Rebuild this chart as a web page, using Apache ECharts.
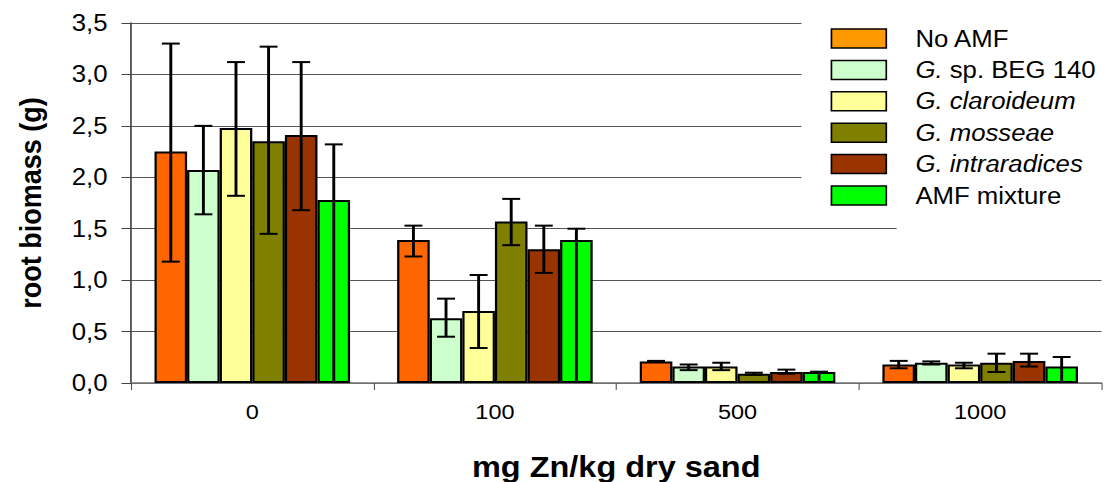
<!DOCTYPE html>
<html>
<head>
<meta charset="utf-8">
<script src="https://cdn.jsdelivr.net/npm/echarts@6/dist/echarts.min.js"></script>
<style>
  html, body { margin: 0; padding: 0; background: #fff; overflow: hidden; }
  /* the original figure is stretched sideways, so the chart is drawn narrower and widened */
  #chart { width: 988px; height: 482px; transform: scaleX(1.1194); transform-origin: 0 0; }
</style>
</head>
<body>
<div id="chart"></div>
<script>
  // categories: mg Zn / kg dry sand
  const doses = ['0', '100', '500', '1000']
  const yTicks = ['0,0', '0,5', '1,0', '1,5', '2,0', '2,5', '3,0', '3,5']

  const treatments = ['No AMF', 'G. sp. BEG 140', 'G. claroideum', 'G. mosseae', 'G. intraradices', 'AMF mixture']

  // mean root biomass (g)
  const noAmf = [2.25, 1.39, 0.21, 0.18]
  const begSp = [2.07, 0.63, 0.16, 0.197]
  const claroideum = [2.48, 0.70, 0.16, 0.18]
  const mosseae = [2.35, 1.57, 0.09, 0.197]
  const intraradices = [2.41, 1.30, 0.107, 0.214]
  const mixture = [1.78, 1.39, 0.107, 0.16]

  // error bar ends (low / high)
  const noAmfLo = [1.18, 1.23, 0.205, 0.143]
  const noAmfHi = [3.30, 1.53, 0.215, 0.215]
  const begSpLo = [1.64, 0.45, 0.125, 0.18]
  const begSpHi = [2.50, 0.82, 0.18, 0.21]
  const claroideumLo = [1.82, 0.34, 0.125, 0.143]
  const claroideumHi = [3.12, 1.05, 0.197, 0.197]
  const mosseaeLo = [1.45, 1.34, 0.08, 0.107]
  const mosseaeHi = [3.27, 1.79, 0.10, 0.285]
  const intraradicesLo = [1.68, 1.07, 0.09, 0.16]
  const intraradicesHi = [3.12, 1.53, 0.13, 0.285]
  const mixtureLo = [0, 0, 0, 0]
  const mixtureHi = [2.32, 1.50, 0.11, 0.253]

  const means = [noAmf, begSp, claroideum, mosseae, intraradices, mixture]
  const lows = [noAmfLo, begSpLo, claroideumLo, mosseaeLo, intraradicesLo, mixtureLo]
  const highs = [noAmfHi, begSpHi, claroideumHi, mosseaeHi, intraradicesHi, mixtureHi]

  const colors = ['#ff6600', '#ccffcc', '#ffff99', '#808000', '#993300', '#00ff00']
  const legendColors = ['#ff9900', '#ccffcc', '#ffff99', '#808000', '#993300', '#00ff00']

  const catGap = 0.194

  function errorRenderer (k) {
    return function (params, api) {
      const cat = api.value(0)
      const lo = api.value(1)
      const hi = api.value(2)
      const catW = api.size([1, 0])[0]
      const barW = catW * (1 - catGap) / treatments.length
      const base = api.coord([cat, 0])
      const x = base[0] + (k - (treatments.length - 1) / 2) * barW
      const yHi = api.coord([cat, hi])[1]
      const yLo = api.coord([cat, lo])[1]
      const cap = 8
      const st = { stroke: '#000', lineWidth: 2 }
      const children = [
        { type: 'line', shape: { x1: x, y1: yLo, x2: x, y2: yHi }, style: { stroke: '#000', lineWidth: 2.6 } },
        { type: 'line', shape: { x1: x - cap, y1: yHi, x2: x + cap, y2: yHi }, style: st }
      ]
      if (lo > 0) {
        children.push({ type: 'line', shape: { x1: x - cap, y1: yLo, x2: x + cap, y2: yLo }, style: st })
      }
      return { type: 'group', children: children }
    }
  }

  const series = []
  treatments.forEach(function (name, k) {
    series.push({
      name: name,
      type: 'bar',
      data: means[k],
      barGap: 0,
      barCategoryGap: (catGap * 100) + '%',
      itemStyle: { color: colors[k], borderColor: '#000', borderWidth: 2 },
      z: 2
    })
  })
  treatments.forEach(function (name, k) {
    series.push({
      name: name + ' err',
      type: 'custom',
      renderItem: errorRenderer(k),
      encode: { x: 0, y: [1, 2] },
      data: doses.map(function (d, i) { return [i, lows[k][i], highs[k][i]] }),
      z: 5,
      silent: true
    })
  })

  const chart = echarts.init(document.getElementById('chart'), null, { renderer: 'svg', width: 988, height: 482 })
  chart.setOption({
    animation: false,
    textStyle: { fontFamily: 'Liberation Sans, Arial, sans-serif', color: '#000' },
    grid: { left: 117, right: 4, top: 23, bottom: 99, outerBoundsMode: 'none' },
    legend: {
      data: treatments.map(function (n, k) {
        return { name: n, itemStyle: { color: legendColors[k], borderColor: '#000', borderWidth: 1.5 } }
      }),
      orient: 'vertical',
      left: 742,
      top: 27,
      padding: 0,
      itemWidth: 49,
      itemHeight: 19,
      itemGap: 8.4,
      icon: 'rect',
      z: 20,
      formatter: function (n) {
        if (n === 'G. sp. BEG 140') return '{i|G.} sp. BEG 140'
        if (n.indexOf('G. ') === 0) return '{i|' + n + '}'
        return n
      },
      textStyle: {
        fontSize: 23,
        lineHeight: 23,
        color: '#000',
        padding: [0, 0, 0, 21],
        rich: {
          i: { fontStyle: 'italic', fontSize: 23, lineHeight: 23 }
        }
      }
    },
    graphic: {
      elements: [
        { type: 'rect', left: 716, top: 0, z: 10, shape: { width: 273, height: 226 }, style: { fill: '#fff' } },
        { type: 'rect', left: 801, top: 226, z: 10, shape: { width: 187, height: 7 }, style: { fill: '#fff' } }
      ]
    },
    xAxis: {
      type: 'category',
      data: doses,
      name: 'mg Zn/kg dry sand',
      nameLocation: 'middle',
      nameGap: 69,
      nameTextStyle: { fontSize: 29, fontWeight: 'bold', color: '#000', lineHeight: 30 },
      axisLine: { lineStyle: { color: '#777', width: 1.5 } },
      axisTick: { show: true, length: 7, lineStyle: { color: '#555' } },
      axisLabel: { fontSize: 21, color: '#000', margin: 18 },
      splitLine: { show: false }
    },
    yAxis: {
      type: 'value',
      min: 0,
      max: 3.5,
      interval: 0.5,
      name: 'root biomass (g)',
      nameLocation: 'middle',
      nameGap: 76,
      nameTextStyle: { fontSize: 27, fontWeight: 'bold', color: '#000' },
      axisLine: { show: true, lineStyle: { color: '#444', width: 1.5 } },
      axisTick: { show: true, length: 8.5, lineStyle: { color: '#444' } },
      axisLabel: {
        fontSize: 23,
        color: '#000',
        margin: 21,
        formatter: function (v) { return yTicks[Math.round(v / 0.5)] }
      },
      splitLine: { show: true, lineStyle: { color: '#555', width: 1 } }
    },
    series: series
  })
</script>
</body>
</html>
